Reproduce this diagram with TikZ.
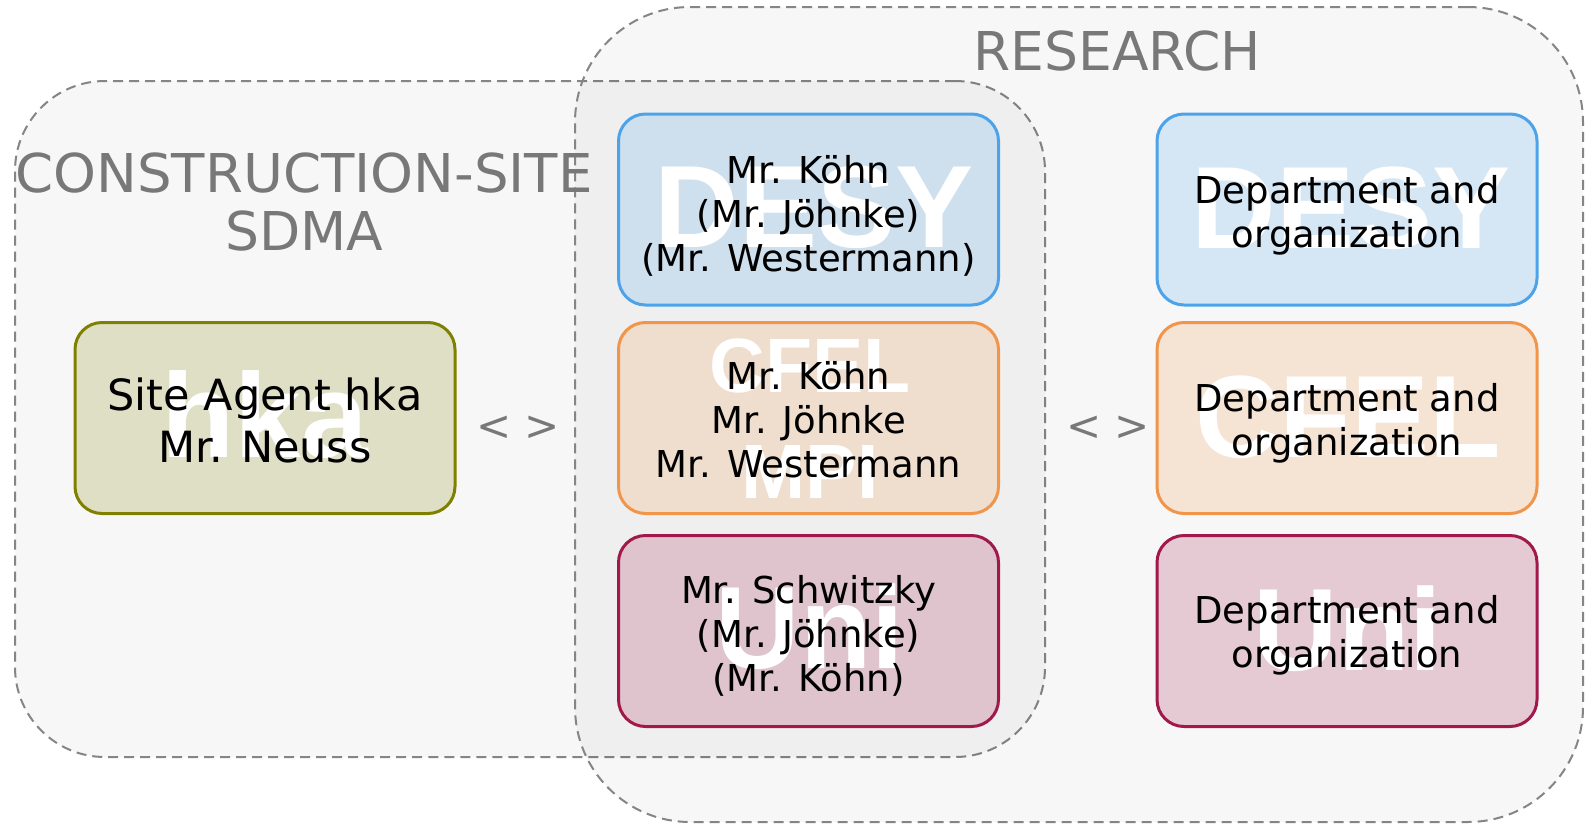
\documentclass[tikz,border=0pt]{standalone}
\usepackage{fontspec}
\setmainfont{DejaVu Sans}
\newfontfamily\wmfont{Liberation Sans}
\definecolor{desyc}{HTML}{4DA3EA}
\definecolor{cfelc}{HTML}{F0954A}
\definecolor{unic}{HTML}{A0194A}
\definecolor{hkac}{HTML}{808000}
\definecolor{titlec}{HTML}{787878}
\definecolor{dashc}{HTML}{858585}
\tikzset{
  area/.style={draw=dashc, line width=2pt, dash pattern=on 10pt off 6pt, fill=black, fill opacity=0.03, inner sep=0pt},
  orgbox/.style={draw=#1, fill=#1, fill opacity=0.2, line width=3pt, rounded corners=27pt, minimum width=380pt, minimum height=191pt, inner sep=0pt},
  wm/.style={text=white, font=\wmfont\bfseries\fontsize{117}{117}\selectfont, anchor=base, inner sep=0pt},
  wms/.style={wm, font=\wmfont\bfseries\fontsize{77}{77}\selectfont},
  txt/.style={align=center, inner sep=0pt, font=\fontsize{37}{44}\selectfont, text=black},
  title/.style={text=titlec, font=\fontsize{53.5}{58}\selectfont, inner sep=0pt, anchor=base},
  sepmark/.style={text=titlec, font=\fontsize{42}{42}\selectfont, inner sep=0pt, anchor=base},
}
\begin{document}
\begin{tikzpicture}[x=1pt,y=-1pt]
\useasboundingbox (0,0) rectangle (1585,825);
\fill[white] (0,0) rectangle (1585,825);
% containers
\node[area, rounded corners=90pt, minimum width=1030pt, minimum height=676pt] (site) at (530,419) {};
\node[area, rounded corners=115pt, minimum width=1008pt, minimum height=815pt] (research) at (1079,414.5) {};
% titles
\node[title] (restitle) at (1117,70) {RESEARCH};
\node[title] (sitetitle) at (304,192) {\scalebox{1.02}[1]{CONSTRUCTION-SITE}};
\node[title] (sdma) at (304,250) {SDMA};
% boxes
\node[orgbox=hkac] (hka) at (265,418) {};
\node[orgbox=desyc] (desyA) at (808.5,209.5) {};
\node[orgbox=cfelc] (cfelA) at (808.5,418) {};
\node[orgbox=unic] (uniA) at (808.5,631) {};
\node[orgbox=desyc] (desyB) at (1347,209.5) {};
\node[orgbox=cfelc] (cfelB) at (1347,418) {};
\node[orgbox=unic] (uniB) at (1347,631) {};
% watermarks
\node[wm, font=\wmfont\bfseries\fontsize{120}{120}\selectfont] (wmhka) at (265,457) {hka};
\node[wm] (wmdesyA) at (814,247) {DESY};
\node[wms] (wmcfelA) at (810,392) {CFEL};
\node[wms] (wmmpiA) at (810,498) {MPI};
\node[wm] (wmuniA) at (810,668) {Uni};
\node[wm] (wmdesyB) at (1351,248) {DESY};
\node[wm] (wmcfelB) at (1348,457) {CFEL};
\node[wm] (wmuniB) at (1348,670) {Uni};
% texts
\node[txt, font=\fontsize{43}{52}\selectfont] (thka) at (265,420) {Site Agent hka\\Mr. Neuss};
\node[txt] (tdesyA) at (808.5,216) {Mr. Köhn\\(Mr. Jöhnke)\\(Mr. Westermann)};
\node[txt] (tcfelA) at (808.5,420) {Mr. Köhn\\Mr. Jöhnke\\Mr. Westermann};
\node[txt] (tuniA) at (808.5,636) {Mr. Schwitzky\\(Mr. Jöhnke)\\(Mr. Köhn)};
\node[txt] (tdesyB) at (1347,215.4) {Department and\\organization};
\node[txt] (tcfelB) at (1347,423) {Department and\\organization};
\node[txt] (tuniB) at (1347,635) {Department and\\organization};
% separators
\node[sepmark] (sepA) at (518,440) {< >};
\node[sepmark] (sepB) at (1108,440) {< >};
\end{tikzpicture}
\end{document}
